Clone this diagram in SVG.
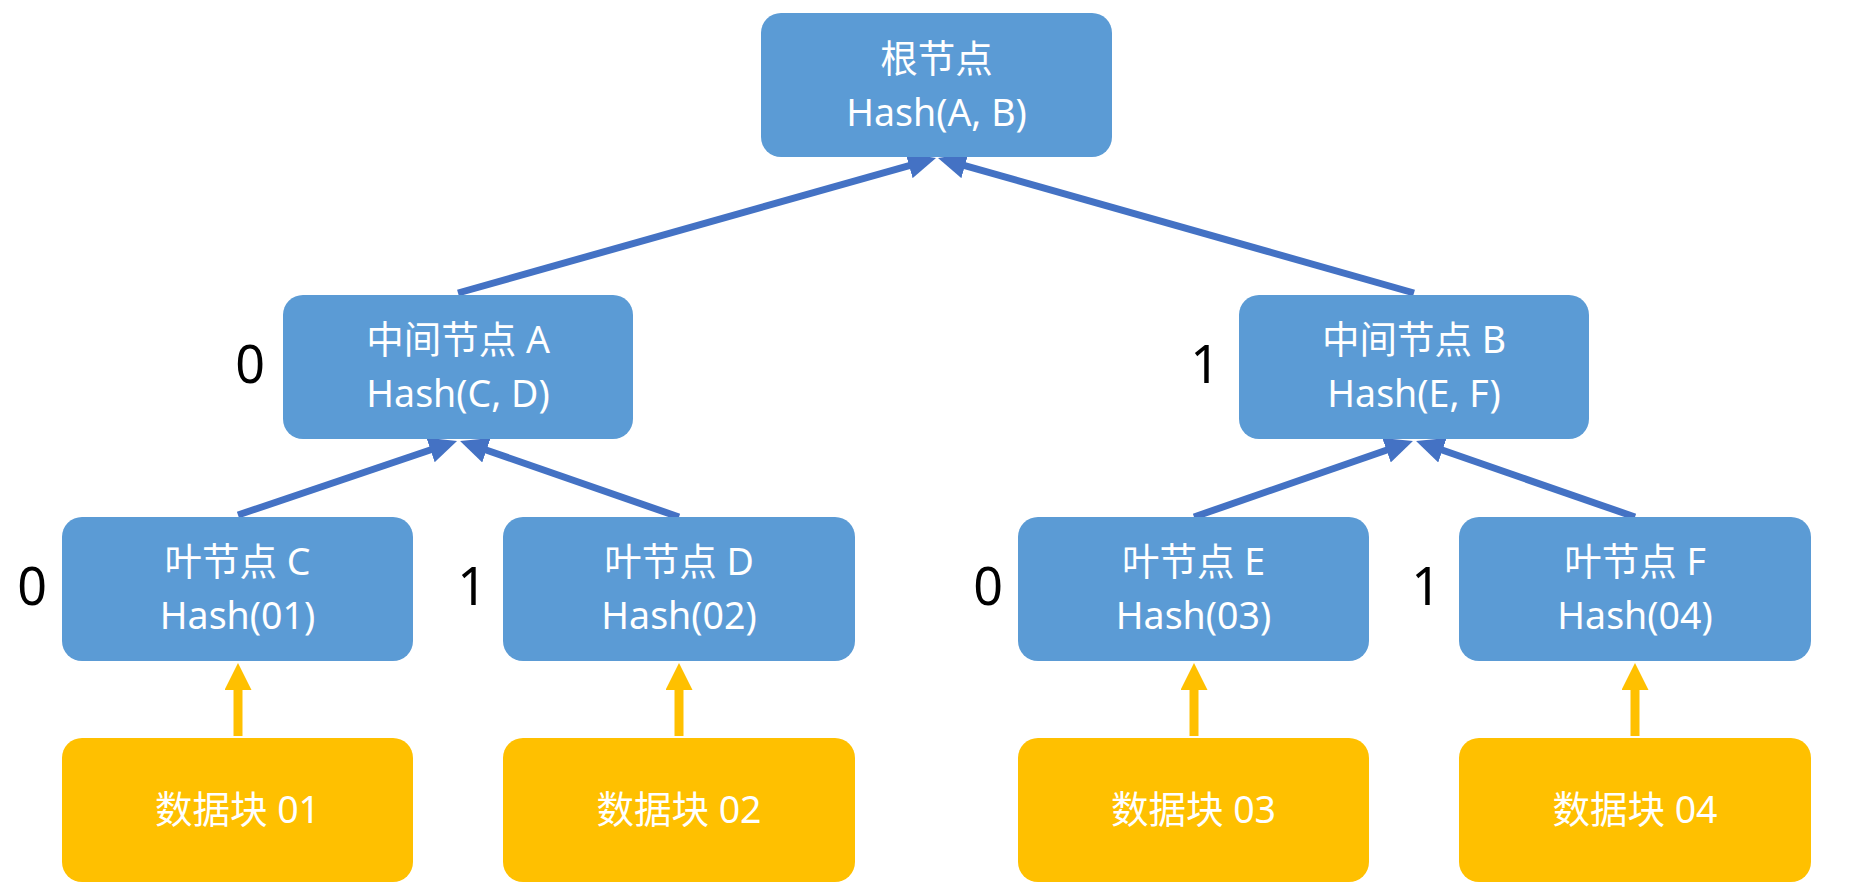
<svg xmlns="http://www.w3.org/2000/svg" width="1875" height="892" viewBox="0 0 1875 892">
<style>
.blue{fill:#5B9BD5}
.yel{fill:#FFC000}
.t{font-family:"Noto Sans","Noto Sans CJK SC",sans-serif;font-size:37.5px;fill:#FFFFFF;text-anchor:middle}
.lbl{font-family:"Noto Sans","Liberation Sans",sans-serif;font-size:52px;fill:#000000;text-anchor:middle}
.ba{stroke:#4472C4;stroke-width:7;fill:none;marker-end:url(#bh)}
.ya{stroke:#FFC000;stroke-width:9;fill:none;marker-end:url(#yh)}
</style>
<defs>
<marker id="bh" markerUnits="userSpaceOnUse" markerWidth="28" markerHeight="26" refX="2" refY="13" orient="auto">
<path d="M0,0 L28,13 L0,26 z" fill="#4472C4"/>
</marker>
<marker id="yh" markerUnits="userSpaceOnUse" markerWidth="27" markerHeight="27" refX="1" refY="13.5" orient="auto">
<path d="M0,0 L27,13.5 L0,27 z" fill="#FFC000"/>
</marker>
</defs>
<rect width="1875" height="892" fill="#FFFFFF"/>
<g id="connectors">
<line class="ba" x1="458" y1="293" x2="911" y2="165.1"/>
<line class="ba" x1="1414" y1="293" x2="963" y2="165.1"/>
<line class="ba" x1="238" y1="515" x2="432.4" y2="449.3"/>
<line class="ba" x1="679" y1="517" x2="484.6" y2="449.5"/>
<line class="ba" x1="1194" y1="517" x2="1388.4" y2="449.5"/>
<line class="ba" x1="1635" y1="517" x2="1440.6" y2="449.5"/>
<line class="ya" x1="238" y1="736" x2="238" y2="689"/>
<line class="ya" x1="679" y1="736" x2="679" y2="689"/>
<line class="ya" x1="1194" y1="736" x2="1194" y2="689"/>
<line class="ya" x1="1635" y1="736" x2="1635" y2="689"/>
</g>
<g id="root">
<rect class="blue" x="761" y="13" width="351" height="144" rx="20"/>
<text class="t" x="936.5" y="72">根节点</text>
<text class="t" x="936.5" y="126">Hash(A, B)</text>
</g>
<g id="midA">
<rect class="blue" x="283" y="295" width="350" height="144" rx="20"/>
<text class="t" x="458" y="353">中间节点 A</text>
<text class="t" x="458" y="407">Hash(C, D)</text>
</g>
<g id="midB">
<rect class="blue" x="1239" y="295" width="350" height="144" rx="20"/>
<text class="t" x="1414" y="353">中间节点 B</text>
<text class="t" x="1414" y="407">Hash(E, F)</text>
</g>
<g id="leafC">
<rect class="blue" x="62" y="517" width="351" height="144" rx="20"/>
<text class="t" x="237.5" y="575">叶节点 C</text>
<text class="t" x="237.5" y="629">Hash(01)</text>
</g>
<g id="leafD">
<rect class="blue" x="503" y="517" width="352" height="144" rx="20"/>
<text class="t" x="679" y="575">叶节点 D</text>
<text class="t" x="679" y="629">Hash(02)</text>
</g>
<g id="leafE">
<rect class="blue" x="1018" y="517" width="351" height="144" rx="20"/>
<text class="t" x="1193.5" y="575">叶节点 E</text>
<text class="t" x="1193.5" y="629">Hash(03)</text>
</g>
<g id="leafF">
<rect class="blue" x="1459" y="517" width="352" height="144" rx="20"/>
<text class="t" x="1635" y="575">叶节点 F</text>
<text class="t" x="1635" y="629">Hash(04)</text>
</g>
<g id="data01">
<rect class="yel" x="62" y="738" width="351" height="144" rx="20"/>
<text class="t" x="237.5" y="823">数据块 01</text>
</g>
<g id="data02">
<rect class="yel" x="503" y="738" width="352" height="144" rx="20"/>
<text class="t" x="679" y="823">数据块 02</text>
</g>
<g id="data03">
<rect class="yel" x="1018" y="738" width="351" height="144" rx="20"/>
<text class="t" x="1193.5" y="823">数据块 03</text>
</g>
<g id="data04">
<rect class="yel" x="1459" y="738" width="352" height="144" rx="20"/>
<text class="t" x="1635" y="823">数据块 04</text>
</g>
<g id="labels">
<text class="lbl" x="250" y="383">0</text>
<text class="lbl" x="1205" y="383">1</text>
<text class="lbl" x="32" y="605">0</text>
<text class="lbl" x="472" y="605">1</text>
<text class="lbl" x="988" y="605">0</text>
<text class="lbl" x="1426" y="605">1</text>
</g>
</svg>
